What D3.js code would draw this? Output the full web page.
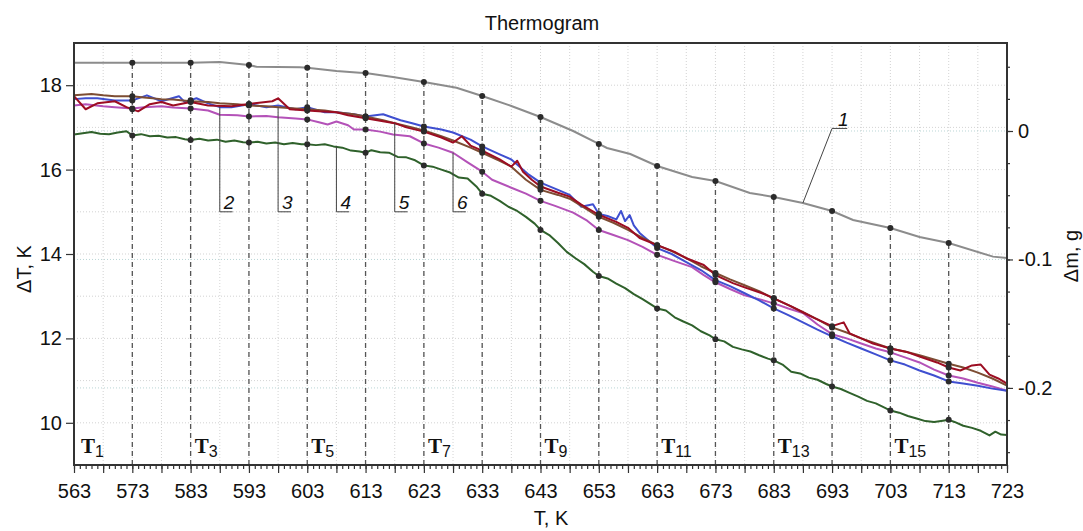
<!DOCTYPE html>
<html>
<head>
<meta charset="utf-8">
<script src="https://cdn.jsdelivr.net/npm/d3@7"></script>
<style>
  body { margin: 0; background: #fff; }
  svg { display: block; }
  text { font-family: "Liberation Sans", Arial, sans-serif; fill: #111; }
</style>
</head>
<body>
<div id="chart"></div>
<script>
//----------------------------
// Thermogram: dT curves + mass loss
//----------------------------
const WIDTH = 1083;
const HEIGHT = 531;

// x ticks and markers
const xTicks = [563, 573, 583, 593, 603, 613, 623, 633, 643, 653, 663, 673, 683, 693, 703, 713, 723];
const markT = [573, 583, 593, 603, 613, 623, 633, 643, 653, 663, 673, 683, 693, 703, 713];
const tLabelT = [563, 583, 603, 623, 643, 663, 683, 703];
const tLabelIdx = ["1", "3", "5", "7", "9", "11", "13", "15"];
const leftTicks = [10, 12, 14, 16, 18];
const rightTicks = [0, -0.1, -0.2];

// curve 1, mass change, g (right axis)
const curve1 = [[563,0.0532],[573,0.0532],[583,0.0532],[588,0.0537],[593,0.0514],[594.3,0.0500],[601.7,0.0496],[603,0.0493],[608,0.0467],[612,0.0454],[613,0.0451],[617.7,0.0420],[623,0.0381],[628.6,0.0337],[633,0.0272],[638,0.0195],[643,0.0109],[648.6,0.0],[653,-0.0101],[654.4,-0.0132],[658.4,-0.0179],[663,-0.0272],[669,-0.0358],[673,-0.0389],[678.9,-0.0482],[683,-0.0514],[688,-0.0560],[693,-0.0623],[696.6,-0.0693],[703,-0.0755],[708,-0.0825],[713,-0.0872],[720.6,-0.0978],[723,-0.0988]];

// dT curves, K (left axis)
const curveBlue = [[563,17.67],[565,17.69],[567,17.69],[570,17.64],[573,17.64],[575.5,17.76],[578,17.62],[581,17.74],[582,17.60],[584,17.69],[586,17.57],[588,17.48],[590,17.48],[593,17.55],[596,17.48],[598,17.52],[601,17.43],[603,17.48],[606,17.36],[608,17.36],[611,17.31],[613,17.26],[616,17.31],[619,17.17],[621,17.10],[623,17.02],[626,16.95],[628,16.88],[631,16.71],[633,16.55],[636,16.36],[638,16.24],[641,15.88],[643,15.69],[646,15.52],[648,15.40],[650,15.12],[652,15.18],[653,14.95],[654.5,14.90],[656,14.82],[656.8,15.02],[657.5,14.78],[658.3,14.92],[659,14.68],[660,14.50],[663,14.14],[665.5,14.00],[668,13.81],[670.5,13.62],[673,13.38],[675.5,13.24],[678,13.07],[680.5,12.90],[683,12.71],[685.5,12.55],[688,12.38],[690.5,12.21],[693,12.05],[695.5,11.90],[698,11.76],[700.5,11.62],[703,11.48],[705.5,11.38],[708,11.24],[710.5,11.12],[713,10.98],[715.5,10.93],[718,10.88],[720.5,10.81],[723,10.76]];
const curveBrown = [[563,17.76],[566,17.79],[568,17.76],[570,17.74],[573,17.74],[575,17.71],[578,17.67],[580,17.66],[583,17.62],[586,17.60],[588,17.57],[591,17.55],[593,17.52],[596,17.50],[598,17.48],[601,17.45],[603,17.43],[606,17.40],[608,17.36],[611,17.31],[613,17.26],[616,17.17],[618,17.10],[621,17.00],[623,16.93],[626,16.79],[628,16.69],[631,16.52],[633,16.40],[636,16.21],[638,16.07],[640.5,15.76],[643,15.52],[646,15.40],[648,15.31],[650.5,15.10],[653,14.88],[655.5,14.74],[658,14.57],[660.5,14.38],[663,14.21],[665.5,14.07],[668,13.90],[670.5,13.71],[673,13.55],[675.5,13.40],[678,13.26],[680.5,13.12],[683,12.95],[685.5,12.79],[688,12.62],[690.5,12.45],[693,12.26],[695.5,12.14],[698,12.00],[700.5,11.88],[703,11.76],[705.5,11.69],[708,11.60],[710.5,11.50],[713,11.40],[715.5,11.31],[718,11.19],[720.5,11.05],[723,10.88]];
const curveRed = [[563,17.74],[565,17.43],[567,17.57],[570,17.62],[572,17.48],[574,17.38],[576,17.55],[578,17.60],[580,17.52],[583,17.60],[586,17.52],[590,17.50],[594,17.57],[597,17.62],[598,17.69],[600,17.43],[603,17.40],[605,17.38],[608,17.36],[610,17.29],[612,17.24],[615,17.17],[618,17.10],[620,17.00],[623,16.90],[626,16.76],[628,16.64],[629.5,16.79],[631,16.57],[633,16.45],[636,16.24],[638,16.07],[639,16.21],[640,15.95],[641.5,15.76],[643,15.60],[646,15.45],[648,15.36],[650,15.17],[653,14.93],[656,14.76],[658,14.62],[660,14.38],[663,14.21],[666,14.05],[668,13.90],[671,13.74],[673,13.50],[676,13.31],[678,13.21],[681,13.07],[683,12.95],[686,12.76],[688,12.62],[690,12.48],[693,12.29],[695,12.38],[696,12.12],[698,12.00],[700,11.88],[703,11.76],[706,11.67],[708,11.57],[711,11.43],[713,11.31],[715,11.24],[717,11.36],[718.5,11.38],[720,11.14],[721.5,11.05],[723,10.93]];
const curveMagenta = [[563,17.52],[565,17.55],[568,17.50],[570,17.48],[573,17.45],[575,17.48],[578,17.50],[580,17.47],[583,17.45],[586,17.40],[588,17.30],[591,17.29],[593,17.26],[596,17.27],[598,17.24],[601,17.21],[603,17.19],[605,17.12],[606.5,17.07],[608,17.14],[610,17.05],[611,16.95],[613,16.95],[615.5,16.90],[617.7,16.83],[620.6,16.79],[623,16.62],[625.5,16.52],[628,16.40],[630.5,16.17],[633,15.95],[634.7,15.76],[638,15.57],[640.5,15.43],[643,15.26],[645.5,15.14],[648.6,14.98],[651,14.79],[653,14.57],[655.5,14.45],[658,14.33],[660.5,14.17],[663,13.98],[666,13.83],[669,13.69],[671,13.50],[673,13.33],[675.5,13.17],[678,13.02],[680.5,12.93],[683,12.83],[685.5,12.71],[688,12.60],[690.5,12.33],[693,12.10],[695.5,12.00],[698,11.88],[700.5,11.76],[703,11.67],[705.5,11.55],[708,11.43],[710.5,11.26],[713,11.12],[715.5,11.05],[718,10.95],[720.5,10.86],[723,10.76]];
const curveGreen = [[563,16.83],[564.5,16.86],[566,16.89],[567.5,16.85],[569,16.84],[570.5,16.88],[572,16.91],[573,16.81],[574.5,16.84],[576,16.79],[577.5,16.80],[579,16.76],[580.5,16.77],[582,16.72],[583,16.70],[584.5,16.73],[586,16.69],[587.5,16.71],[589,16.66],[590.5,16.69],[592,16.65],[593,16.64],[594.5,16.66],[596,16.62],[597.5,16.64],[599,16.60],[600.5,16.63],[602,16.60],[603,16.60],[604.5,16.58],[606,16.60],[607.5,16.55],[609,16.52],[610.5,16.45],[612,16.43],[613,16.40],[614,16.46],[615.5,16.41],[617,16.40],[618.5,16.30],[620,16.29],[621.5,16.22],[623,16.10],[624.5,16.07],[626,16.00],[627.5,15.93],[629,15.81],[630.5,15.79],[632,15.60],[633,15.43],[634.5,15.38],[636,15.26],[637.5,15.12],[639,15.02],[640.5,14.88],[642,14.72],[643,14.57],[644.5,14.45],[646,14.26],[647.5,14.05],[649,13.90],[650.5,13.76],[652,13.58],[653,13.48],[654.5,13.42],[656,13.30],[657.5,13.19],[659,13.05],[660.5,12.93],[662,12.80],[663,12.71],[664.5,12.66],[666,12.50],[667.5,12.40],[669,12.31],[670.5,12.17],[672,12.07],[673,11.98],[674.5,11.93],[676,11.80],[677.5,11.74],[679,11.69],[680.5,11.60],[682,11.52],[683,11.48],[684.5,11.38],[686,11.21],[687.5,11.17],[689,11.07],[690.5,11.02],[692,10.92],[693,10.86],[694.5,10.80],[696,10.71],[697.5,10.62],[699,10.52],[700.5,10.46],[702,10.36],[703,10.29],[704.5,10.24],[706,10.16],[707.5,10.10],[709,10.04],[710.5,10.02],[712,10.05],[713,10.07],[714,10.02],[715.5,9.93],[717,9.88],[718.5,9.81],[720,9.70],[721,9.79],[722,9.72],[723,9.71]];

const series = [
  { name: "4", data: curveGreen, color: "#2f612b" },
  { name: "6", data: curveMagenta, color: "#b452b8" },
  { name: "2", data: curveBlue, color: "#3f4fd0" },
  { name: "3", data: curveBrown, color: "#7d4d33" },
  { name: "5", data: curveRed, color: "#9c0d22" },
];
// leader positions (T where the leader touches the curve)
const leaderT = { "2": 588, "3": 598, "4": 608, "5": 618, "6": 628 };

const margin = { top: 43, right: 76, bottom: 66, left: 74 };
const width_g = WIDTH - margin.left - margin.right;
const height_g = HEIGHT - margin.top - margin.bottom;

const x = d3.scaleLinear().domain([563, 723]).range([0, width_g]);
const y = d3.scaleLinear().domain([9, 19]).range([height_g, 0]);
const yR = d3.scaleLinear().domain([-0.26, 0.0685]).range([height_g, 0]);

// value of a curve at T (linear between read points)
const bis = d3.bisector((d) => d[0]).left;
function valueAt(data, t) {
  const i = Math.max(1, Math.min(data.length - 1, bis(data, t)));
  const a = data[i - 1], b = data[i];
  return a[1] + (b[1] - a[1]) * (t - a[0]) / (b[0] - a[0]);
}

const svg = d3.select("#chart").append("svg")
  .attr("width", WIDTH).attr("height", HEIGHT);
const g = svg.append("g").attr("transform", `translate(${margin.left},${margin.top})`);

// grid
g.selectAll(".vgrid").data(d3.range(568, 723, 5)).enter().append("line")
  .attr("x1", (d) => x(d)).attr("x2", (d) => x(d))
  .attr("y1", 0).attr("y2", height_g)
  .attr("stroke", "#c8c8c8").attr("stroke-width", 0.8).attr("stroke-dasharray", "1,2");
g.selectAll(".hgrid").data(d3.range(10, 19, 1)).enter().append("line")
  .attr("x1", 0).attr("x2", width_g)
  .attr("y1", (d) => y(d)).attr("y2", (d) => y(d))
  .attr("stroke", "#c8c8c8").attr("stroke-width", 0.8).attr("stroke-dasharray", "1,2");
g.selectAll(".rgrid").data(rightTicks).enter().append("line")
  .attr("x1", 0).attr("x2", width_g)
  .attr("y1", (d) => yR(d)).attr("y2", (d) => yR(d))
  .attr("stroke", "#a8cccc").attr("stroke-width", 0.8).attr("stroke-dasharray", "1,2");

// dashed marker lines up to curve 1
g.selectAll(".mark").data(markT).enter().append("line")
  .attr("x1", (d) => x(d)).attr("x2", (d) => x(d))
  .attr("y1", height_g).attr("y2", (d) => yR(valueAt(curve1, d)))
  .attr("stroke", "#555").attr("stroke-width", 1.3).attr("stroke-dasharray", "5,4");

// curves
const lineL = d3.line().x((d) => x(d[0])).y((d) => y(d[1]));
const lineR = d3.line().x((d) => x(d[0])).y((d) => yR(d[1]));
g.append("path").attr("d", lineR(curve1)).attr("fill", "none")
  .attr("stroke", "#8c8c8c").attr("stroke-width", 2);
series.forEach((s) => {
  g.append("path").attr("d", lineL(s.data)).attr("fill", "none")
    .attr("stroke", s.color).attr("stroke-width", 2).attr("stroke-linejoin", "round");
});

// dots
const dots = [];
markT.forEach((t) => {
  dots.push([x(t), yR(valueAt(curve1, t))]);
  series.forEach((s) => dots.push([x(t), y(valueAt(s.data, t))]));
});
g.selectAll(".dot").data(dots).enter().append("circle")
  .attr("cx", (d) => d[0]).attr("cy", (d) => d[1]).attr("r", 3)
  .attr("fill", "#2b2b2b");

// leaders 2..6
const leaderBottom = 15.0;
series.forEach((s) => {
  const t = leaderT[s.name];
  const px = x(t);
  const pyTop = y(valueAt(s.data, t));
  const pyBot = y(leaderBottom);
  g.append("path")
    .attr("d", `M${px},${pyTop}V${pyBot}H${x(t + 2.2)}`)
    .attr("fill", "none").attr("stroke", "#444").attr("stroke-width", 1);
  g.append("text").attr("x", px + 4).attr("y", pyBot - 3)
    .attr("font-size", 19).attr("font-style", "italic").text(s.name);
});
// leader 1
{
  const t0 = 688, t1 = 693, t2 = 695.6, m = 0.002;
  g.append("path")
    .attr("d", `M${x(t0)},${yR(valueAt(curve1, t0))}L${x(t1)},${yR(m)}H${x(t2)}`)
    .attr("fill", "none").attr("stroke", "#444").attr("stroke-width", 1);
  g.append("text").attr("x", x(t1) + 6).attr("y", yR(m) - 2)
    .attr("font-size", 19).attr("font-style", "italic").text("1");
}

// T labels
tLabelT.forEach((t, i) => {
  const tx = g.append("text").attr("x", x(t) + (i === 0 ? 7 : 4)).attr("y", 410);
  tx.append("tspan").attr("font-family", "'Liberation Serif', 'Times New Roman', serif")
    .attr("font-weight", "bold").attr("font-size", 21).text("T");
  tx.append("tspan").attr("font-size", 16).attr("dy", 4).text(tLabelIdx[i]);
});

// frame
g.append("rect").attr("width", width_g).attr("height", height_g)
  .attr("fill", "none").attr("stroke", "#333").attr("stroke-width", 2);

// axes
function styleAxis(sel) {
  sel.select(".domain").remove();
  sel.selectAll("line").attr("stroke", "#333").attr("stroke-width", 1.2);
  sel.selectAll("text").attr("font-size", 20).attr("fill", "#111")
    .attr("font-family", "'Liberation Sans', Arial, sans-serif");
}
g.append("g").attr("transform", `translate(0,${height_g})`)
  .call(d3.axisBottom(x).tickValues(d3.range(563, 724, 1)).tickSize(4).tickFormat(""))
  .call(styleAxis);
g.append("g").attr("transform", `translate(0,${height_g})`)
  .call(d3.axisBottom(x).tickValues(xTicks).tickSize(8).tickPadding(11).tickFormat(d3.format("d")))
  .call(styleAxis);
g.append("g").attr("transform", `translate(0,${height_g})`)
  .call(d3.axisBottom(x).tickValues(d3.range(568, 723, 10)).tickSize(8).tickFormat(""))
  .call(styleAxis);
g.append("g")
  .call(d3.axisLeft(y).tickValues(leftTicks).tickSize(8).tickPadding(4))
  .call(styleAxis);
g.append("g").attr("transform", `translate(${width_g},0)`)
  .call(d3.axisRight(yR).tickValues(d3.range(-0.25, 0.06, 0.025)).tickSize(3).tickFormat(""))
  .call(styleAxis);
g.append("g").attr("transform", `translate(${width_g},0)`)
  .call(d3.axisRight(yR).tickValues(rightTicks).tickSize(6).tickPadding(5)
    .tickFormat((d) => (d === 0 ? "0" : d.toFixed(1))))
  .call(styleAxis);

// titles
svg.append("text").attr("x", 542).attr("y", 30).attr("text-anchor", "middle")
  .attr("font-size", 20).text("Thermogram");
svg.append("text").attr("x", 551).attr("y", 525).attr("text-anchor", "middle")
  .attr("font-size", 20).text("T, K");
svg.append("text").attr("transform", "translate(31,269) rotate(-90)")
  .attr("text-anchor", "middle").attr("font-size", 20).text("ΔT, K");
svg.append("text").attr("transform", "translate(1078,256) rotate(-90)")
  .attr("text-anchor", "middle").attr("font-size", 20).text("Δm, g");
</script>
</body>
</html>
